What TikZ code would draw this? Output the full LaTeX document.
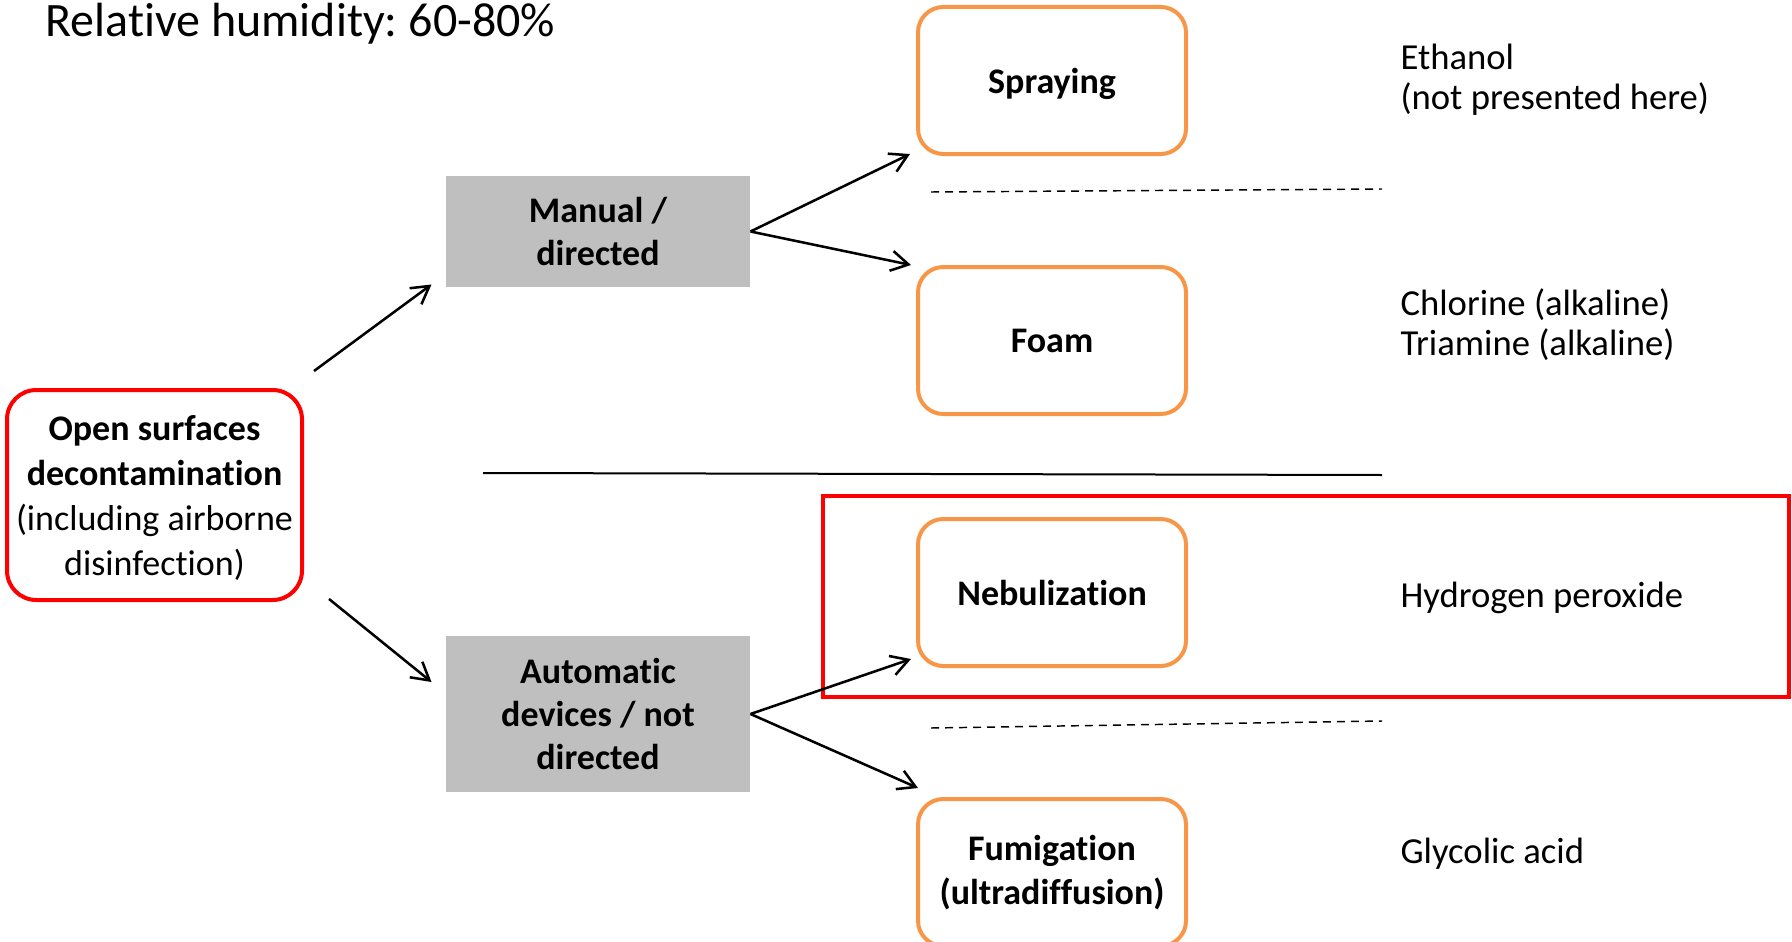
\documentclass[tikz,border=0pt]{standalone}
\usepackage{fontspec}
\setmainfont{Carlito}[Ligatures=NoCommon]
\usetikzlibrary{arrows.meta}

\tikzset{every picture/.style={line width=0.75pt}}
\tikzset{
  source/.style={draw={rgb, 255:red, 255; green, 0; blue, 0 }, line width=3pt, rounded corners=22pt,
    minimum width=221.25pt, minimum height=157.5pt, inner sep=0.75pt, align=center, text depth=0pt,
    font=\fontsize{27}{33.75}\selectfont},
  route/.style={fill={rgb, 255:red, 191; green, 191; blue, 191 }, minimum width=228pt, inner sep=0.75pt,
    align=center, font=\fontsize{27}{32.5}\selectfont\bfseries},
  method/.style={draw={rgb, 255:red, 247; green, 150; blue, 70 }, line width=3pt, rounded corners=19pt,
    minimum width=201pt, minimum height=110.25pt, inner sep=0.75pt, align=center,
    font=\fontsize{27}{32.5}\selectfont\bfseries},
  agent/.style={anchor=base west, inner sep=0pt, align=left, font=\fontsize{27.5}{30}\selectfont},
  arr/.style={-{Straight Barb[length=13pt,width=15pt]}, line width=1.9pt},
}

\begin{document}
\frenchspacing
\begin{tikzpicture}[x=0.75pt,y=0.75pt,yscale=-1,xscale=1]
\clip (0,0) rectangle (1792,942);

% Text Node
\node [anchor=base west, inner sep=0pt, font=\fontsize{36}{43}\selectfont] (humidity) at (45,37) {Relative humidity: 60-80\%};

%Rounded Rect
\node [source] (open) at (154.5,495) {\textbf{Open surfaces}\\\textbf{decontamination}\\(including airborne\\disinfection)};

%Shape: Rectangle
\node [route, minimum height=83.25pt] (manual) at (598,231.5) {Manual /\\directed};
%Shape: Rectangle
\node [route, minimum height=117pt] (auto) at (598,714) {Automatic\\devices / not\\directed};

%Shape: Rectangle (highlight)
\draw [color={rgb, 255:red, 255; green, 0; blue, 0 }, line width=3.4pt] (823,496) rectangle (1789,697);

%Rounded Rect
\node [method, text depth=0pt] (spray) at (1052,80.5) {Spraying};
%Rounded Rect
\node [method] (foam) at (1052,340.5) {Foam};
%Rounded Rect
\node [method] (nebul) at (1052,592.5) {Nebulization};
%Rounded Rect
\node [method] (fumig) at (1052,872.5) {Fumigation\\(ultradiffusion)};

%Straight Lines
\draw [line width=1.5pt] (483,473) -- (1382,475);
%Straight Lines
\draw [line width=1.1pt, dash pattern=on 6pt off 4.5pt] (931,192) -- (1382,189);
%Straight Lines
\draw [line width=1.1pt, dash pattern=on 6pt off 4.5pt] (931,728) -- (1382,721);

%Straight Lines
\draw [arr] ([shift={(10,-17)}]open.north east) -- ([shift={(-14,-3)}]manual.south west);
\draw [arr] ([shift={(25,-3)}]open.south east) -- ([shift={(-14,-32)}]auto.west);
\draw [arr] (manual.east) -- ([shift={(-6,-2)}]spray.south west);
\draw [arr] (manual.east) -- ([shift={(-5,0)}]foam.north west);
\draw [arr] (auto.east) -- ([shift={(-5,-9)}]nebul.south west);
\draw [arr] (auto.east) -- ([shift={(2,-9)}]fumig.north west);

% Text Node
\node [agent] (ethanol) at (1400,109) {Ethanol\\(not presented here)};
% Text Node
\node [agent] (chlorine) at (1400,355) {Chlorine (alkaline)\\Triamine (alkaline)};
% Text Node
\node [agent] (peroxide) at (1400,607) {Hydrogen peroxide};
% Text Node
\node [agent] (glycolic) at (1400,863) {Glycolic acid};

\end{tikzpicture}
\end{document}
